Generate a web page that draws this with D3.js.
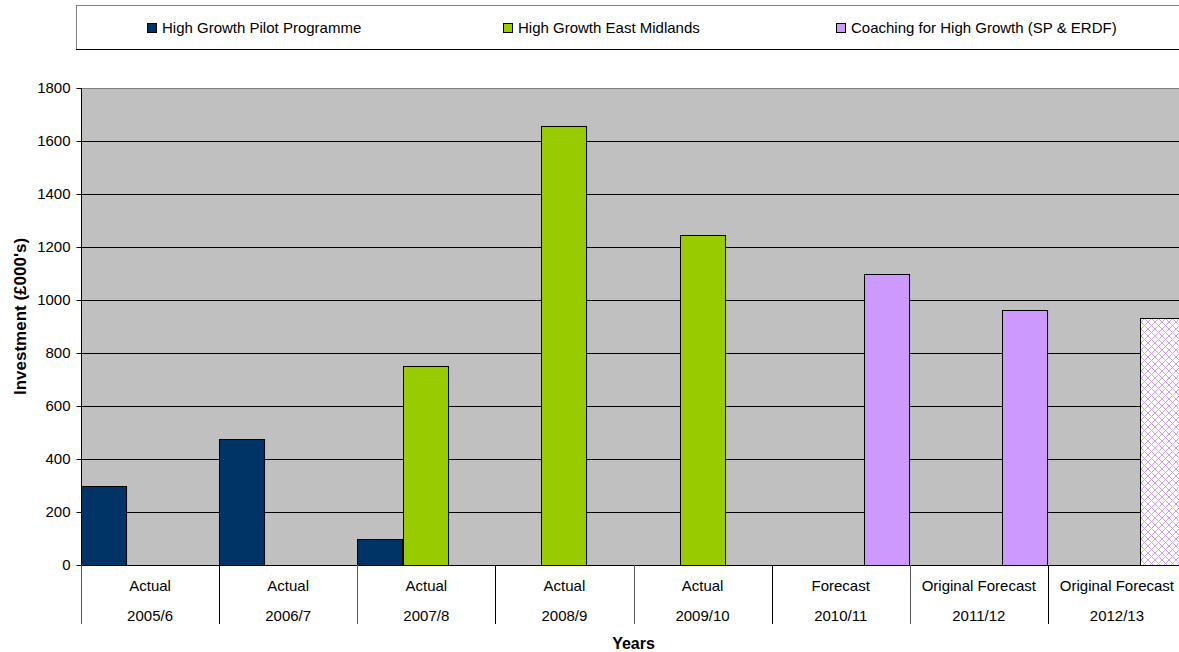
<!DOCTYPE html>
<html><head><meta charset="utf-8">
<script src="https://cdn.jsdelivr.net/npm/d3@7/dist/d3.min.js"></script>
<style>
html,body{margin:0;padding:0;background:#fff;overflow:hidden;}
svg{display:block;font-family:Arial,"Liberation Sans",sans-serif;}
</style></head>
<body>
<script>
const categories = ["2005/6","2006/7","2007/8","2008/9","2009/10","2010/11","2011/12","2012/13"];
const statusLabels = ["Actual","Actual","Actual","Actual","Actual","Forecast","Original Forecast","Original Forecast"];
const seriesNames = ["High Growth Pilot Programme","High Growth East Midlands","Coaching for High Growth (SP & ERDF)"];
const pilotValues = [300, 476, 100, null, null, null, null, null];
const eastMidlandsValues = [null, null, 752, 1657, 1247, null, null, null];
const coachingValues = [null, null, null, null, null, 1099, 962, 931];
const yTicks = [0,200,400,600,800,1000,1200,1400,1600,1800];

(function(){
const W = 1179, H = 652;
const colors = ["#003366","#99CC00","#CC99FF"];
const seriesValues = [pilotValues, eastMidlandsValues, coachingValues];

const svg = d3.select("body").append("svg").attr("width",W).attr("height",H);

const defs = svg.append("defs");
const pat = defs.append("pattern").attr("id","lattice").attr("patternUnits","userSpaceOnUse")
  .attr("width",7).attr("height",7);
pat.append("rect").attr("width",7).attr("height",7).attr("fill","#fff");
pat.append("path").attr("d","M0,0L7,7M7,0L0,7").attr("stroke","#C9A0F5").attr("stroke-width",1);

const pLeft = 81, pRight = 1186, pTop = 88, pBottom = 565;
const x = d3.scaleBand().domain(categories).range([pLeft,pRight]).paddingInner(0).paddingOuter(0);
const xs = d3.scaleBand().domain(d3.range(seriesNames.length)).range([0,x.bandwidth()]).padding(0);
const y = d3.scaleLinear().domain([0,1800]).range([pBottom,pTop]);

svg.append("rect").attr("x",pLeft).attr("y",pTop).attr("width",pRight-pLeft).attr("height",pBottom-pTop).attr("fill","#C0C0C0");

svg.append("g").selectAll("line").data(yTicks.filter(d=>d>0)).join("line")
  .attr("x1",pLeft).attr("x2",pRight)
  .attr("y1",d=>Math.round(y(d))+0.5).attr("y2",d=>Math.round(y(d))+0.5)
  .attr("stroke",d=>d===1800?"#808080":"#000").attr("stroke-width",1);

const barData = [];
seriesValues.forEach((vals,s)=>vals.forEach((v,i)=>{ if(v!=null) barData.push({s,i,v}); }));
svg.append("g").selectAll("rect").data(barData).join("rect")
  .attr("x",d=>Math.round(x(categories[d.i])+xs(d.s))+0.5)
  .attr("y",d=>Math.round(y(d.v))+0.5)
  .attr("width",xs.bandwidth()-1)
  .attr("height",d=>Math.round(y(0))-Math.round(y(d.v)))
  .attr("fill",d=>(d.s===2 && d.i===categories.length-1)?"url(#lattice)":colors[d.s])
  .attr("stroke","#000").attr("stroke-width",1);

const yAxis = d3.axisLeft(y).tickValues(yTicks).tickSize(5).tickPadding(6).tickFormat(d3.format("d"));
const ya = svg.append("g").attr("transform",`translate(${pLeft+0.5},0)`).call(yAxis);
ya.select(".domain").attr("stroke","#000").attr("d",`M0,${pTop}V${pBottom}`);
ya.selectAll(".tick line").attr("stroke","#000");
ya.selectAll(".tick text").attr("font-size",15).attr("fill","#000").attr("font-family","Arial,'Liberation Sans',sans-serif");
ya.selectAll(".tick").attr("transform",d=>`translate(0,${Math.round(y(d))+0.5})`);

svg.append("line").attr("x1",pLeft).attr("x2",pRight).attr("y1",pBottom+0.5).attr("y2",pBottom+0.5).attr("stroke","#000");
const bounds = categories.map(c=>x(c));
svg.append("g").selectAll("line").data(bounds).join("line")
  .attr("x1",d=>Math.round(d)+0.5).attr("x2",d=>Math.round(d)+0.5)
  .attr("y1",pBottom).attr("y2",624).attr("stroke",(d,i)=>i%2?"#000":"#555");

const lab = svg.append("g").attr("font-size",15).attr("text-anchor","middle").attr("fill","#000");
lab.selectAll("text.s").data(categories).join("text").attr("class","s")
  .attr("x",c=>x(c)+x.bandwidth()/2).attr("y",591).text((c,i)=>statusLabels[i]);
lab.selectAll("text.c").data(categories).join("text").attr("class","c")
  .attr("x",c=>x(c)+x.bandwidth()/2).attr("y",621).text(c=>c);

svg.append("text").attr("x",(pLeft+pRight)/2).attr("y",649).attr("text-anchor","middle")
  .attr("font-size",16).attr("font-weight","bold").text("Years");
svg.append("text").attr("transform",`translate(26,316.5) rotate(-90)`).attr("text-anchor","middle")
  .attr("font-size",17).attr("font-weight","bold").text("Investment (£000's)");

const lg = svg.append("g");
lg.append("rect").attr("x",76.5).attr("y",5.5).attr("width",1200).attr("height",44).attr("fill","#fff").attr("stroke","#808080");
lg.append("line").attr("x1",76).attr("x2",W).attr("y1",49.5).attr("y2",49.5).attr("stroke","#000");
const legX = [147, 503, 836];
seriesNames.forEach((n,i)=>{
  lg.append("rect").attr("x",legX[i]+0.5).attr("y",23.5).attr("width",9).attr("height",9).attr("fill",colors[i]).attr("stroke","#000");
  lg.append("text").attr("x",legX[i]+15).attr("y",33).attr("font-size",15).attr("fill","#000").text(n);
});
})();
</script>
</body></html>
